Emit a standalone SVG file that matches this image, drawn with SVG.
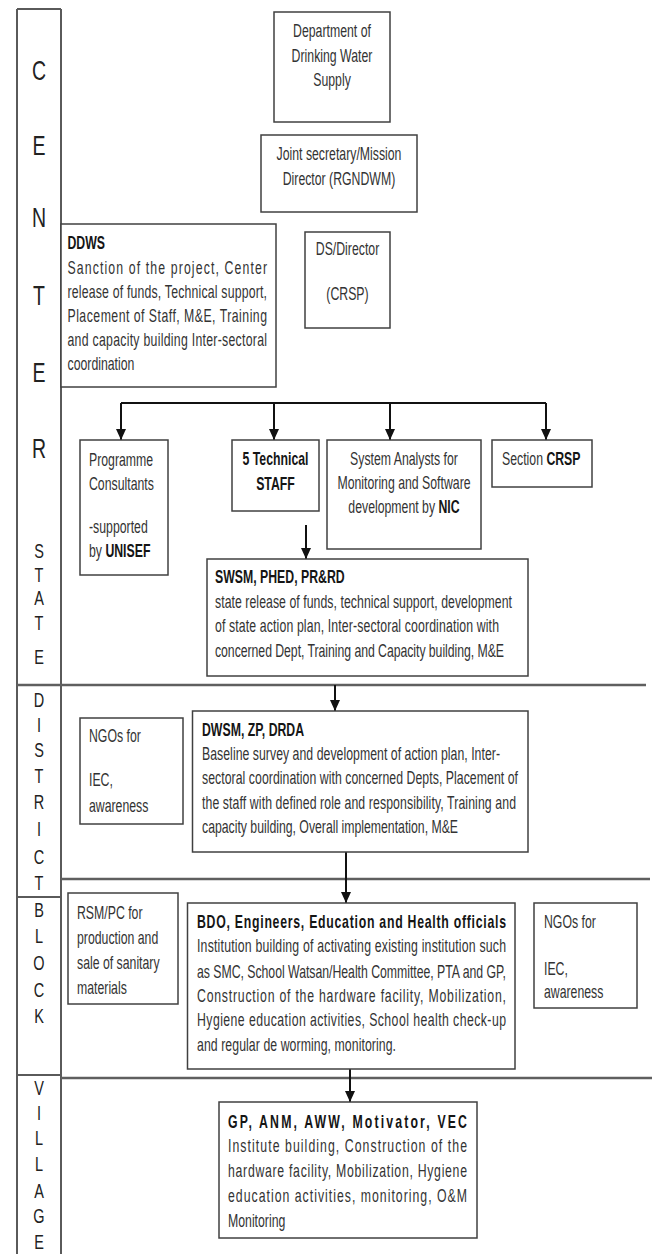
<svg xmlns="http://www.w3.org/2000/svg" width="654" height="1254" viewBox="0 0 654 1254">
<defs>
<marker id="ah" markerUnits="userSpaceOnUse" markerWidth="11" markerHeight="10" viewBox="0 0 11 10" refX="11" refY="5" orient="auto">
<path d="M0,0 L11,5 L0,10 z" fill="#111"/>
</marker>
<style>
.bx{fill:#fff;stroke:#404040;stroke-width:1.5}
.t{font-family:"Liberation Sans",Arial,sans-serif;font-size:12.3px;fill:#333}
.c{text-anchor:middle}
.h{font-weight:bold;fill:#151515}
.L{font-family:"Liberation Sans",Arial,sans-serif;fill:#222;text-anchor:middle}
.big{font-size:19.5px}
.sm{font-size:14.5px}
.col{stroke:#5a5a5a;stroke-width:2;fill:none}
.sep{stroke:#5f5f5f;stroke-width:2.5;fill:none}
.ln{stroke:#111;stroke-width:2;fill:none}
</style>
</defs>
<rect width="654" height="1254" fill="#fff"/>

<g id="levels">
<path class="col" d="M17,9 H61 M17,9 V1254 M61,9 V1254 M17,897 H61 M17,1075 H61"/>
<path class="sep" d="M17,685 H646 M61,879 H650 M61,1078 H652"/>
<text class="L big" x="39" transform="translate(0,80) scale(1,1.45)">C</text>
<text class="L big" x="39" transform="translate(0,155) scale(1,1.45)">E</text>
<text class="L big" x="39" transform="translate(0,227) scale(1,1.45)">N</text>
<text class="L big" x="39" transform="translate(0,305) scale(1,1.45)">T</text>
<text class="L big" x="39" transform="translate(0,382) scale(1,1.45)">E</text>
<text class="L big" x="39" transform="translate(0,458) scale(1,1.45)">R</text>
<text class="L sm" x="39" transform="translate(0,558) scale(1,1.45)">S</text>
<text class="L sm" x="39" transform="translate(0,582) scale(1,1.45)">T</text>
<text class="L sm" x="39" transform="translate(0,605) scale(1,1.45)">A</text>
<text class="L sm" x="39" transform="translate(0,630) scale(1,1.45)">T</text>
<text class="L sm" x="39" transform="translate(0,664) scale(1,1.45)">E</text>
<text class="L sm" x="39" transform="translate(0,707) scale(1,1.45)">D</text>
<text class="L sm" x="39" transform="translate(0,732) scale(1,1.45)">I</text>
<text class="L sm" x="39" transform="translate(0,757) scale(1,1.45)">S</text>
<text class="L sm" x="39" transform="translate(0,783) scale(1,1.45)">T</text>
<text class="L sm" x="39" transform="translate(0,809) scale(1,1.45)">R</text>
<text class="L sm" x="39" transform="translate(0,836) scale(1,1.45)">I</text>
<text class="L sm" x="39" transform="translate(0,864) scale(1,1.45)">C</text>
<text class="L sm" x="39" transform="translate(0,890) scale(1,1.45)">T</text>
<text class="L sm" x="39" transform="translate(0,917) scale(1,1.45)">B</text>
<text class="L sm" x="39" transform="translate(0,943) scale(1,1.45)">L</text>
<text class="L sm" x="39" transform="translate(0,970) scale(1,1.45)">O</text>
<text class="L sm" x="39" transform="translate(0,997) scale(1,1.45)">C</text>
<text class="L sm" x="39" transform="translate(0,1023) scale(1,1.45)">K</text>
<text class="L sm" x="39" transform="translate(0,1095) scale(1,1.45)">V</text>
<text class="L sm" x="39" transform="translate(0,1120) scale(1,1.45)">I</text>
<text class="L sm" x="39" transform="translate(0,1145) scale(1,1.45)">L</text>
<text class="L sm" x="39" transform="translate(0,1171) scale(1,1.45)">L</text>
<text class="L sm" x="39" transform="translate(0,1198) scale(1,1.45)">A</text>
<text class="L sm" x="39" transform="translate(0,1223) scale(1,1.45)">G</text>
<text class="L sm" x="39" transform="translate(0,1249) scale(1,1.45)">E</text>
</g>

<g id="connectors">
<path class="ln" d="M121,403 H546"/>
<path class="ln" d="M121,403 V440" marker-end="url(#ah)"/>
<path class="ln" d="M274,403 V440" marker-end="url(#ah)"/>
<path class="ln" d="M390,403 V440" marker-end="url(#ah)"/>
<path class="ln" d="M546,403 V440" marker-end="url(#ah)"/>
<path class="ln" d="M306,525 V559" marker-end="url(#ah)"/>
<path class="ln" d="M335,685 V711" marker-end="url(#ah)"/>
<path class="ln" d="M346,852 V903" marker-end="url(#ah)"/>
<path class="ln" d="M350,1069 V1102" marker-end="url(#ah)"/>
</g>

<g id="dept">
<rect class="bx" x="274" y="12" width="116" height="110"/>
<text class="t c" x="332" transform="translate(0,37) scale(1,1.45)">Department of</text>
<text class="t c" x="332" transform="translate(0,62) scale(1,1.45)">Drinking Water</text>
<text class="t c" x="332" transform="translate(0,86) scale(1,1.45)">Supply</text>
</g>

<g id="joint">
<rect class="bx" x="261" y="135" width="156" height="77"/>
<text class="t c" x="339" transform="translate(0,160) scale(1,1.45)">Joint secretary/Mission</text>
<text class="t c" x="339" transform="translate(0,185) scale(1,1.45)">Director (RGNDWM)</text>
</g>

<g id="dsdirector">
<rect class="bx" x="305" y="232" width="85" height="96"/>
<text class="t c" x="347.5" transform="translate(0,255) scale(1,1.45)">DS/Director</text>
<text class="t c" x="347.5" transform="translate(0,300) scale(1,1.45)">(CRSP)</text>
</g>

<g id="ddws">
<rect class="bx" x="61" y="224" width="215" height="163"/>
<text class="t h" x="67.5" transform="translate(0,249) scale(1,1.45)">DDWS</text>
<text class="t" x="67.5" textLength="199.5" lengthAdjust="spacing" transform="translate(0,274) scale(1,1.45)">Sanction of the project, Center</text>
<text class="t" x="67.5" textLength="199.5" lengthAdjust="spacing" transform="translate(0,298) scale(1,1.45)">release of funds, Technical support,</text>
<text class="t" x="67.5" textLength="199.5" lengthAdjust="spacing" transform="translate(0,322) scale(1,1.45)">Placement of Staff, M&amp;E, Training</text>
<text class="t" x="67.5" textLength="199.5" lengthAdjust="spacing" transform="translate(0,346) scale(1,1.45)">and capacity building Inter-sectoral</text>
<text class="t" x="67.5" transform="translate(0,370) scale(1,1.45)">coordination</text>
</g>

<g id="programme">
<rect class="bx" x="80" y="440" width="88" height="135"/>
<text class="t" x="89" transform="translate(0,466) scale(1,1.45)">Programme</text>
<text class="t" x="89" transform="translate(0,490) scale(1,1.45)">Consultants</text>
<text class="t" x="89" transform="translate(0,533) scale(1,1.45)">-supported</text>
<text class="t" x="89" transform="translate(0,557) scale(1,1.45)">by <tspan class="h">UNISEF</tspan></text>
</g>

<g id="technical">
<rect class="bx" x="232" y="440" width="87" height="71"/>
<text class="t c h" x="275.5" transform="translate(0,465) scale(1,1.45)">5 Technical</text>
<text class="t c h" x="275.5" transform="translate(0,490) scale(1,1.45)">STAFF</text>
</g>

<g id="analysts">
<rect class="bx" x="327" y="440" width="154" height="109"/>
<text class="t c" x="404" transform="translate(0,465) scale(1,1.45)">System Analysts for</text>
<text class="t c" x="404" transform="translate(0,489) scale(1,1.45)">Monitoring and Software</text>
<text class="t c" x="404" transform="translate(0,513) scale(1,1.45)">development   by <tspan class="h">NIC</tspan></text>
</g>

<g id="section">
<rect class="bx" x="492" y="440" width="100" height="47"/>
<text class="t" x="502" transform="translate(0,465) scale(1,1.45)">Section <tspan class="h">CRSP</tspan></text>
</g>

<g id="swsm">
<rect class="bx" x="207" y="559" width="321" height="117"/>
<text class="t h" x="215" transform="translate(0,583) scale(1,1.45)">SWSM, PHED, PR&amp;RD</text>
<text class="t" x="215" textLength="297" lengthAdjust="spacing" transform="translate(0,608) scale(1,1.45)">state release of funds, technical support, development</text>
<text class="t" x="215" textLength="284" lengthAdjust="spacing" transform="translate(0,632) scale(1,1.45)">of state action plan, Inter-sectoral coordination with</text>
<text class="t" x="215" textLength="289" lengthAdjust="spacing" transform="translate(0,657) scale(1,1.45)">concerned Dept, Training and Capacity building, M&amp;E</text>
</g>

<g id="ngo-district">
<rect class="bx" x="80" y="718" width="103" height="106"/>
<text class="t" x="89" transform="translate(0,742) scale(1,1.45)">NGOs for</text>
<text class="t" x="89" transform="translate(0,786) scale(1,1.45)">IEC,</text>
<text class="t" x="89" transform="translate(0,812) scale(1,1.45)">awareness</text>
</g>

<g id="dwsm">
<rect class="bx" x="192.5" y="711" width="335.5" height="141"/>
<text class="t h" x="202" transform="translate(0,736) scale(1,1.45)">DWSM, ZP, DRDA</text>
<text class="t" x="202" textLength="298" lengthAdjust="spacing" transform="translate(0,760) scale(1,1.45)">Baseline survey and development of action plan, Inter-</text>
<text class="t" x="202" textLength="316" lengthAdjust="spacing" transform="translate(0,784) scale(1,1.45)">sectoral  coordination with concerned Depts, Placement of</text>
<text class="t" x="202" textLength="314" lengthAdjust="spacing" transform="translate(0,809) scale(1,1.45)">the staff with defined role and responsibility, Training and</text>
<text class="t" x="202" textLength="256" lengthAdjust="spacing" transform="translate(0,833) scale(1,1.45)">capacity building, Overall implementation, M&amp;E</text>
</g>

<g id="rsm">
<rect class="bx" x="68" y="893" width="110" height="111"/>
<text class="t" x="77" transform="translate(0,919) scale(1,1.45)">RSM/PC for</text>
<text class="t" x="77" transform="translate(0,944) scale(1,1.45)">production and</text>
<text class="t" x="77" transform="translate(0,969) scale(1,1.45)">sale of sanitary</text>
<text class="t" x="77" transform="translate(0,994) scale(1,1.45)">materials</text>
</g>

<g id="bdo">
<rect class="bx" x="187.5" y="903" width="327.5" height="166"/>
<text class="t h" x="197" textLength="309" lengthAdjust="spacing" transform="translate(0,928) scale(1,1.45)">BDO, Engineers,  Education and Health officials</text>
<text class="t" x="197" textLength="309" lengthAdjust="spacing" transform="translate(0,952) scale(1,1.45)">Institution building of activating existing institution such</text>
<text class="t" x="197" textLength="309" lengthAdjust="spacing" transform="translate(0,978) scale(1,1.45)">as SMC, School Watsan/Health Committee, PTA and GP,</text>
<text class="t" x="197" textLength="309" lengthAdjust="spacing" transform="translate(0,1002) scale(1,1.45)">Construction of the hardware facility, Mobilization,</text>
<text class="t" x="197" textLength="309" lengthAdjust="spacing" transform="translate(0,1026) scale(1,1.45)">Hygiene education activities, School health check-up</text>
<text class="t" x="197" textLength="199" lengthAdjust="spacing" transform="translate(0,1051) scale(1,1.45)">and regular de worming, monitoring.</text>
</g>

<g id="ngo-block">
<rect class="bx" x="534" y="903" width="103" height="105"/>
<text class="t" x="544" transform="translate(0,928) scale(1,1.45)">NGOs for</text>
<text class="t" x="544" transform="translate(0,975) scale(1,1.45)">IEC,</text>
<text class="t" x="544" transform="translate(0,998) scale(1,1.45)">awareness</text>
</g>

<g id="village">
<rect class="bx" x="219" y="1102" width="258" height="136"/>
<text class="t h" x="228" textLength="239" lengthAdjust="spacing" transform="translate(0,1128) scale(1,1.45)">GP, ANM, AWW, Motivator, VEC</text>
<text class="t" x="228" textLength="239" lengthAdjust="spacing" transform="translate(0,1152) scale(1,1.45)">Institute building, Construction of the</text>
<text class="t" x="228" textLength="239" lengthAdjust="spacing" transform="translate(0,1177) scale(1,1.45)">hardware facility, Mobilization, Hygiene</text>
<text class="t" x="228" textLength="239" lengthAdjust="spacing" transform="translate(0,1202) scale(1,1.45)">education activities, monitoring, O&amp;M</text>
<text class="t" x="228" transform="translate(0,1227) scale(1,1.45)">Monitoring</text>
</g>
</svg>
